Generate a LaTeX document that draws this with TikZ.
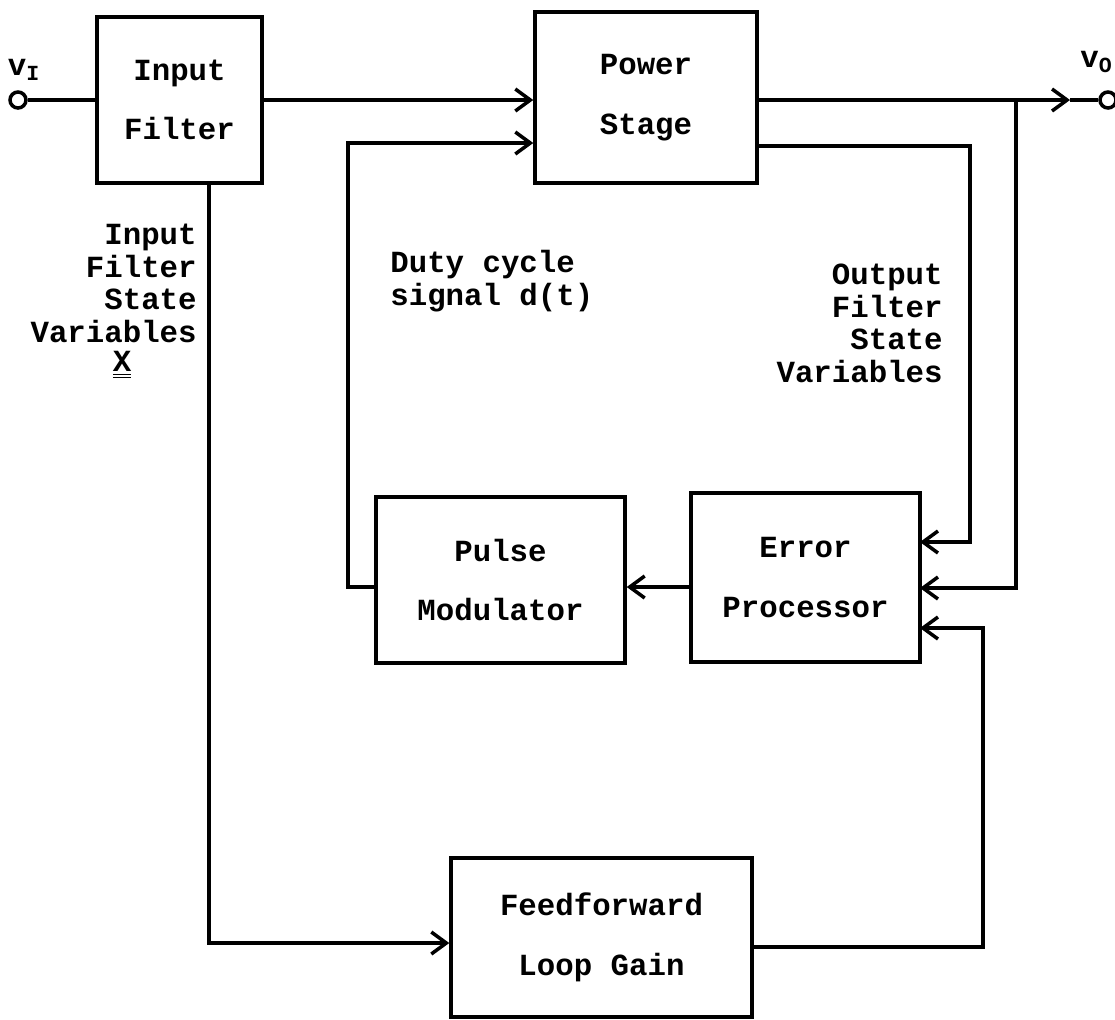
\documentclass[tikz,border=0pt]{standalone}
\usepackage{fontspec}
\setmonofont{Liberation Mono}
\usetikzlibrary{arrows.meta}

\newcommand{\boxfont}{\ttfamily\bfseries\fontsize{17.5}{34}\selectfont}
\newcommand{\lblfont}{\ttfamily\bfseries\fontsize{17.5}{18.5}\selectfont}

\begin{document}
\begin{tikzpicture}[x=0.02cm, y=-0.02cm, >={Straight Barb[length=3mm,width=4.4mm]},
    block/.style={draw, line width=2pt, font=\boxfont, align=center, inner sep=0pt},
    wire/.style={line width=2pt},
    term/.style={draw, circle, line width=2pt, minimum size=0.32cm, inner sep=0pt},
    lbl/.style={font=\lblfont, inner sep=0pt}]

        % ==== PAGE ====
        \useasboundingbox (0,0) rectangle (1115,1019);

        % ==== BLOCKS ====
        \node[block, minimum width=3.3cm, minimum height=3.32cm] (infilter) at (179.5,100) {Input\\Filter};
        \node[block, minimum width=4.44cm, minimum height=3.42cm] (power) at (646,97.5) {Power\\Stage};
        \node[block, minimum width=4.98cm, minimum height=3.32cm] (pulse) at (500.5,580) {Pulse\\Modulator};
        \node[block, minimum width=4.58cm, minimum height=3.38cm] (error) at (805.5,577.5) {Error\\Processor};
        \node[block, minimum width=6.02cm, minimum height=3.18cm] (ffwd) at (601.5,937.5) {Feedforward\\Loop Gain};

        % ==== TERMINALS vi AND vo ====
        \node[term] (vin) at (18,100) {};
        \node[term] (vout) at (1108,100) {};
        \node[lbl] (vinlbl) at (24,70) {v\textsubscript{I}};
        \node[lbl, anchor=east] (voutlbl) at (1113,62) {v\textsubscript{O}};

        % ==== LABELS ====
        \node[lbl, align=right, anchor=north east] (inlbl) at (197,224) {Input\\Filter\\State\\Variables};
        \node[lbl] (xvec) at (122,365) {\underline{\underline{X}}};
        \node[lbl, align=left, anchor=north west] (dutylbl) at (390,250) {Duty cycle\\signal d(t)};
        \node[lbl, align=right, anchor=north east] (outlbl) at (943,264) {Output\\Filter\\State\\Variables};

        % ==== CORNERS ====
        \coordinate (vtip) at (1070,100);
        \coordinate (tap) at (1016,100);
        \coordinate (ofs) at (970,146);
        \coordinate (ein1) at (920,542);
        \coordinate (ein2) at (920,588);
        \coordinate (ein3) at (920,628);
        \coordinate (ffcorner) at (983,947);
        \coordinate (pmlink) at (0,587);
        \coordinate (dcorner) at (348,143);
        \coordinate (ifcorner) at (209,943);

        % ==== FORWARD PATH ====
        \draw[wire] (vin) -- (infilter.west |- vin);
        \draw[wire, ->] (infilter.east) -- (infilter.east -| power.west);
        \draw[wire, ->] (power.east |- vout) -- (vtip);
        \draw[wire] (vtip) -- (vout);

        % ==== FEEDBACK TO ERROR PROCESSOR ====
        \draw[wire, ->] (power.east |- ofs) -- (ofs) |- (ein1);
        \draw[wire, ->] (tap) |- (ein2);
        \draw[wire, ->] (ffwd.east |- ffcorner) -- (ffcorner) |- (ein3);

        % ==== DUTY CYCLE LOOP ====
        \draw[wire, ->] (error.west |- pmlink) -- (pulse.east |- pmlink);
        \draw[wire, ->] (pulse.west |- pmlink) -| (dcorner) -- (dcorner -| power.west);

        % ==== FEEDFORWARD ====
        \draw[wire, ->] (infilter.south -| ifcorner) -- (ifcorner) -- (ifcorner -| ffwd.west);
    \end{tikzpicture}
\end{document}
